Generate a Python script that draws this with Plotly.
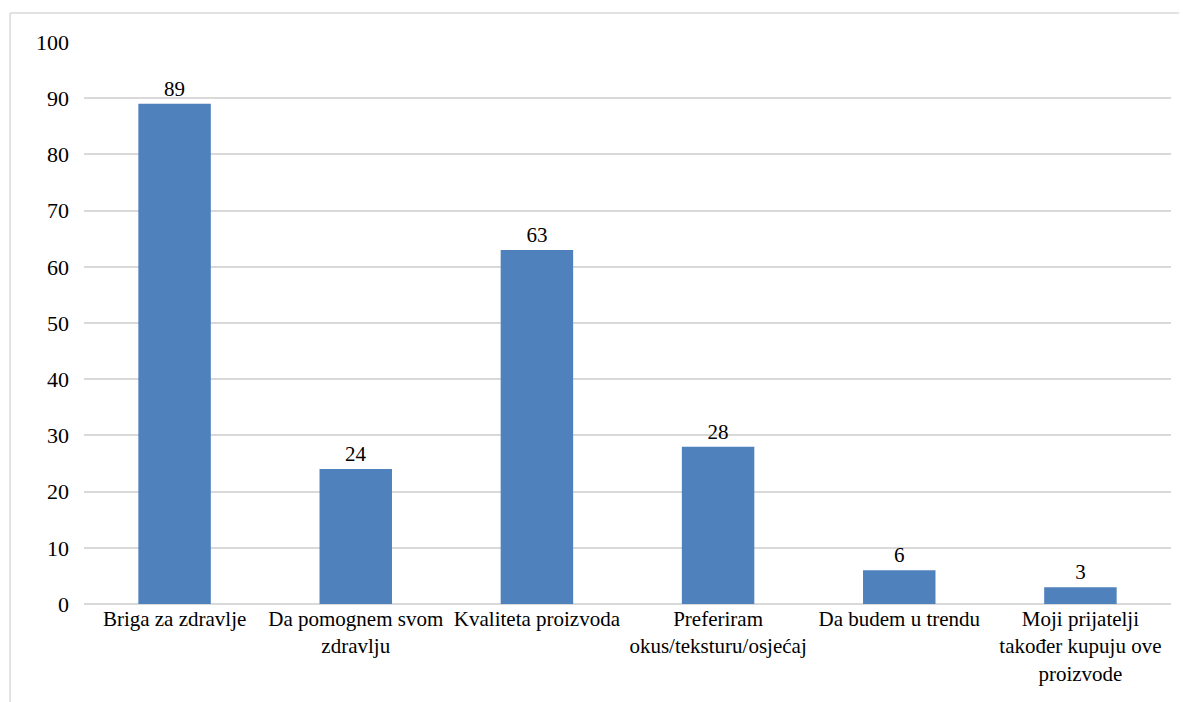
import plotly.graph_objects as go

categories = [
    "Briga za zdravlje",
    "Da pomognem svom<br>zdravlju",
    "Kvaliteta proizvoda",
    "Preferiram<br>okus/teksturu/osjećaj",
    "Da budem u trendu",
    "Moji prijatelji<br>također kupuju ove<br>proizvode",
]
values = [89, 24, 63, 28, 6, 3]
y_ticks = [0, 10, 20, 30, 40, 50, 60, 70, 80, 90, 100]

FONT = "Liberation Serif, Times New Roman, DejaVu Serif, serif"

fig = go.Figure(
    go.Bar(
        x=categories,
        y=values,
        marker=dict(color="#4F81BD", line=dict(width=0)),
        text=[str(v) for v in values],
        textposition="outside",
        textfont=dict(family=FONT, size=21, color="#000000"),
        cliponaxis=False,
    )
)

fig.update_layout(
    width=1187,
    height=702,
    margin=dict(l=76, r=24, t=34, b=106),
    paper_bgcolor="white",
    plot_bgcolor="white",
    bargap=0.6,
    showlegend=False,
    font=dict(family=FONT, size=21, color="#000000"),
    shapes=[
        dict(type="line", xref="paper", yref="paper", x0=-0.068, x1=1.2, y0=1.0516, y1=1.0516,
             line=dict(color="#D9D9D9", width=1.5)),
        dict(type="line", xref="paper", yref="paper", x0=-0.068, x1=-0.068, y0=1.0516, y1=-0.3,
             line=dict(color="#D9D9D9", width=1.5)),
    ],
)
fig.update_yaxes(
    range=[0, 100],
    tickvals=y_ticks,
    showgrid=True,
    gridcolor="#D9D9D9",
    gridwidth=1.5,
    zeroline=True,
    zerolinecolor="#D9D9D9",
    zerolinewidth=1.5,
    showline=False,
    ticks="",
    tickfont=dict(family=FONT, size=22, color="#000000"),
    ticklabelstandoff=14,
)
fig.update_xaxes(
    showline=False,
    ticks="",
    tickangle=0,
    tickfont=dict(family=FONT, size=21, color="#000000"),
)

fig.write_html("out.html")
